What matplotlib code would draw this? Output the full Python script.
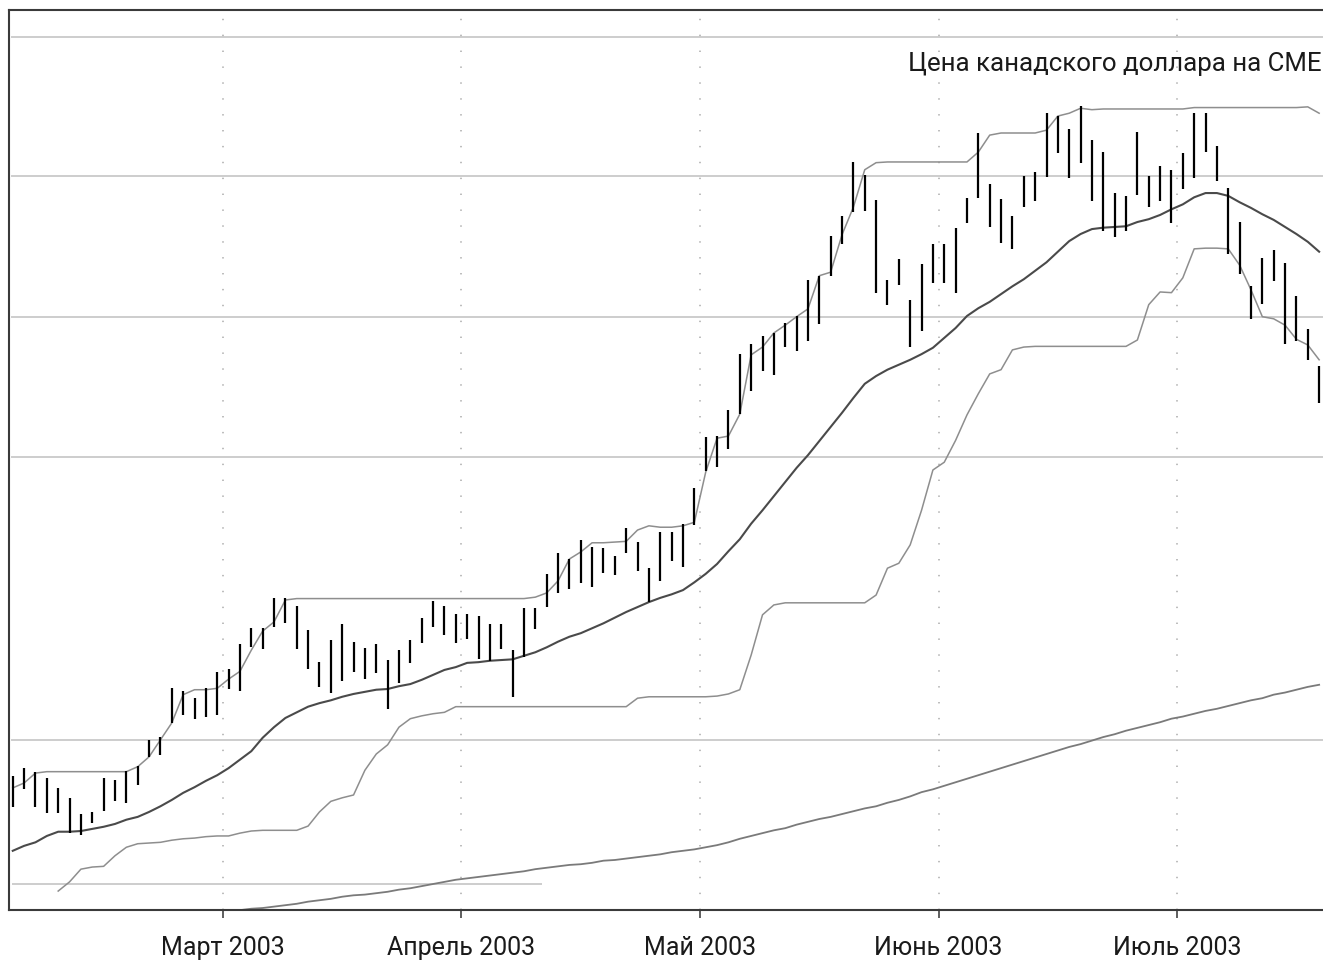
import numpy as np
import pandas as pd
import matplotlib
matplotlib.use("Agg")
import matplotlib.pyplot as plt

plt.rcParams['font.family'] = ['Roboto', 'DejaVu Sans']

# ---- trading calendar (CME, Feb 3 - Jul 18 2003) ----
holidays = pd.to_datetime(['2003-02-17', '2003-04-18', '2003-05-26', '2003-07-04'])
dates = pd.bdate_range('2003-02-03', '2003-07-18').difference(holidays)

month_labels = ['Март 2003', 'Апрель 2003', 'Май 2003', 'Июнь 2003', 'Июль 2003']
title_text = 'Цена канадского доллара на СМЕ'

# ---- daily bars (US cents per CAD) ----
high = [66.53, 66.64, 66.59, 66.50, 66.36, 66.22, 65.99, 66.02, 66.50, 66.47,
        66.60, 66.67, 67.04, 67.08, 67.77, 67.73, 67.63, 67.77, 68.00, 68.04,
        68.40, 68.62, 68.62, 69.05, 69.05, 68.93, 68.60, 68.14, 68.45, 68.68,
        68.43, 68.34, 68.40, 68.17, 68.31, 68.45, 68.77, 69.01, 68.93, 68.82,
        68.82, 68.79, 68.68, 68.68, 68.31, 68.91, 68.91, 69.39, 69.69, 69.60,
        69.87, 69.77, 69.76, 69.64, 70.04, 69.84, 69.47, 69.98, 69.98, 70.10,
        70.61, 71.33, 71.34, 71.71, 72.50, 72.64, 72.76, 72.80, 72.94, 73.04,
        73.55, 73.61, 74.17, 74.46, 75.22, 75.04, 74.68, 73.55, 73.85, 73.27,
        73.78, 74.06, 74.06, 74.29, 74.71, 75.63, 74.91, 74.70, 74.46, 75.02,
        75.08, 75.91, 75.87, 75.69, 76.01, 75.53, 75.36, 74.78, 74.74, 75.64,
        75.02, 75.16, 75.11, 75.35, 75.91, 75.91, 75.45, 74.85, 74.37, 73.46,
        73.86, 73.97, 73.79, 73.32, 72.86, 72.33]
low = [66.09, 66.34, 66.09, 66.00, 66.00, 65.72, 65.69, 65.86, 66.03, 66.17,
       66.15, 66.40, 66.80, 66.83, 67.28, 67.39, 67.34, 67.36, 67.39, 67.76,
       67.73, 68.35, 68.33, 68.64, 68.69, 68.33, 68.04, 67.79, 67.70, 67.87,
       68.00, 67.90, 67.99, 67.48, 67.84, 68.13, 68.41, 68.64, 68.52, 68.41,
       68.47, 68.18, 68.16, 68.33, 67.65, 68.21, 68.61, 68.92, 69.12, 69.18,
       69.26, 69.20, 69.40, 69.37, 69.69, 69.43, 68.99, 69.29, 69.57, 69.49,
       70.08, 70.85, 70.90, 71.16, 71.65, 71.98, 72.26, 72.20, 72.60, 72.54,
       72.69, 72.93, 73.61, 74.06, 74.51, 74.53, 73.37, 73.20, 73.48, 72.60,
       72.83, 73.51, 73.51, 73.37, 74.36, 74.71, 74.30, 74.07, 73.99, 74.58,
       74.67, 75.01, 75.35, 74.99, 75.21, 74.67, 74.24, 74.16, 74.24, 74.75,
       74.58, 74.67, 74.36, 74.84, 74.99, 75.36, 74.95, 73.92, 73.63, 73.00,
       73.21, 73.53, 72.64, 72.69, 72.42, 71.81]

# ---- indicator lines ----
upper_band = [66.36, 66.43, 66.57, 66.59, 66.59, 66.59, 66.59, 66.59, 66.59, 66.59,
              66.59, 66.66, 66.80, 67.04, 67.28, 67.68, 67.75, 67.75, 67.77, 67.90,
              68.01, 68.31, 68.58, 68.71, 69.02, 69.04, 69.04, 69.04, 69.04, 69.04,
              69.04, 69.04, 69.04, 69.04, 69.04, 69.04, 69.04, 69.04, 69.04, 69.04,
              69.04, 69.04, 69.04, 69.04, 69.04, 69.04, 69.06, 69.12, 69.29, 69.60,
              69.70, 69.83, 69.83, 69.84, 69.85, 70.01, 70.07, 70.05, 70.05, 70.07,
              70.12, 70.83, 71.31, 71.34, 71.65, 72.49, 72.60, 72.80, 72.91, 73.03,
              73.14, 73.61, 73.66, 74.19, 74.58, 75.11, 75.21, 75.22, 75.22, 75.22,
              75.22, 75.22, 75.22, 75.22, 75.22, 75.36, 75.60, 75.63, 75.63, 75.63,
              75.63, 75.67, 75.87, 75.91, 75.98, 75.96, 75.97, 75.97, 75.97, 75.97,
              75.97, 75.97, 75.97, 75.97, 75.99, 75.99, 75.99, 75.99, 75.99, 75.99,
              75.99, 75.99, 75.99, 75.99, 76.00, 75.91]
mid_ma = [65.47, 65.54, 65.59, 65.68, 65.74, 65.74, 65.75, 65.78, 65.81, 65.85,
          65.91, 65.95, 66.02, 66.10, 66.19, 66.29, 66.37, 66.46, 66.54, 66.64,
          66.76, 66.88, 67.07, 67.22, 67.35, 67.43, 67.51, 67.56, 67.60, 67.65,
          67.69, 67.72, 67.75, 67.76, 67.80, 67.83, 67.89, 67.96, 68.03, 68.07,
          68.13, 68.14, 68.16, 68.17, 68.18, 68.23, 68.28, 68.35, 68.43, 68.50,
          68.55, 68.62, 68.69, 68.77, 68.85, 68.92, 68.99, 69.05, 69.10, 69.16,
          69.27, 69.39, 69.53, 69.71, 69.88, 70.10, 70.29, 70.49, 70.69, 70.89,
          71.07, 71.27, 71.47, 71.67, 71.88, 72.08, 72.19, 72.28, 72.35, 72.42,
          72.50, 72.59, 72.73, 72.87, 73.04, 73.15, 73.24, 73.35, 73.46, 73.56,
          73.68, 73.80, 73.95, 74.10, 74.20, 74.27, 74.29, 74.30, 74.31, 74.37,
          74.41, 74.47, 74.55, 74.62, 74.72, 74.78, 74.78, 74.74, 74.65, 74.57,
          74.48, 74.40, 74.30, 74.20, 74.09, 73.95]
nan = np.nan
lower_band = [nan, nan, nan, nan, 64.90, 65.03, 65.21, 65.24, 65.25, 65.40,
              65.52, 65.57, 65.58, 65.59, 65.62, 65.64, 65.65, 65.67, 65.68, 65.68,
              65.72, 65.75, 65.76, 65.76, 65.76, 65.76, 65.82, 66.02, 66.17, 66.22,
              66.26, 66.61, 66.84, 66.97, 67.22, 67.34, 67.38, 67.41, 67.43, 67.51,
              67.51, 67.51, 67.51, 67.51, 67.51, 67.51, 67.51, 67.51, 67.51, 67.51,
              67.51, 67.51, 67.51, 67.51, 67.51, 67.63, 67.65, 67.65, 67.65, 67.65,
              67.65, 67.65, 67.66, 67.69, 67.75, 68.24, 68.81, 68.95, 68.98, 68.98,
              68.98, 68.98, 68.98, 68.98, 68.98, 68.98, 69.09, 69.47, 69.54, 69.80,
              70.29, 70.86, 70.97, 71.28, 71.64, 71.94, 72.22, 72.28, 72.56, 72.60,
              72.61, 72.61, 72.61, 72.61, 72.61, 72.61, 72.61, 72.61, 72.61, 72.70,
              73.20, 73.38, 73.37, 73.58, 73.99, 74.00, 74.00, 73.99, 73.76, 73.41,
              73.03, 73.00, 72.91, 72.71, 72.63, 72.42]
long_ma = [nan] * 20 + [
              64.63, 64.65, 64.66, 64.68, 64.70, 64.72, 64.75, 64.77, 64.79, 64.82,
              64.84, 64.85, 64.87, 64.89, 64.92, 64.94, 64.97, 65.00, 65.03, 65.06,
              65.08, 65.10, 65.12, 65.14, 65.16, 65.18, 65.21, 65.23, 65.25, 65.27,
              65.28, 65.30, 65.33, 65.34, 65.36, 65.38, 65.40, 65.42, 65.45, 65.47,
              65.49, 65.52, 65.55, 65.59, 65.64, 65.68, 65.72, 65.76, 65.79, 65.84,
              65.88, 65.92, 65.95, 65.99, 66.03, 66.07, 66.10, 66.15, 66.19, 66.24,
              66.30, 66.34, 66.39, 66.44, 66.49, 66.54, 66.59, 66.64, 66.69, 66.74,
              66.79, 66.84, 66.89, 66.94, 66.98, 67.03, 67.08, 67.12, 67.17, 67.21,
              67.25, 67.29, 67.34, 67.37, 67.41, 67.45, 67.48, 67.52, 67.56, 67.60,
              67.63, 67.68, 67.71, 67.75, 67.79, 67.82]

grid_levels = [67.04, 71.04, 73.03, 75.02, 76.99]
base_level = 65.0
base_level_end = dates.get_loc(pd.Timestamp('2003-04-10'))

# ---- positions ----
x = np.arange(len(dates))
months = dates.to_period('M')
first_idx = [i for i in range(1, len(dates)) if months[i] != months[i - 1]]
tick_pos = [i - 0.5 for i in first_idx]

fig = plt.figure(figsize=(13.23, 9.61), dpi=100)
# axes runs a little past the right edge of the picture (chart is cropped there)
ax = fig.add_axes([9 / 1323, 51 / 961, 1324 / 1323, 900 / 961])

grid_c = '#cdcdcd'
for g in grid_levels:
    ax.axhline(g, xmin=0.0025, color=grid_c, lw=1.4, zorder=0)
ax.hlines(base_level, -0.05, base_level_end - 0.4, color=grid_c, lw=1.4, zorder=0)
for t in tick_pos:
    ax.axvline(t, color='#b8b8b8', lw=1.3, ls=(0, (0.8, 8)), zorder=0)

ax.plot(x, long_ma, color='#7a7a7a', lw=1.3, zorder=2)
ax.plot(x, lower_band, color='#8e8e8e', lw=1.1, zorder=2)
ax.plot(x, upper_band, color='#8e8e8e', lw=1.1, zorder=2)
ax.plot(x, mid_ma, color='#4a4a4a', lw=1.5, zorder=3)
ax.vlines(x, low, high, color='black', lw=1.6, zorder=5)

ax.set_xlim(-0.33, 116.22)
ax.set_ylim(64.632, 77.371)
ax.set_yticks([])
ax.set_xticks(tick_pos)
ax.set_xticklabels(month_labels)
ax.tick_params(axis='x', length=6, width=1.1, color='#333333', pad=13,
               labelsize=18, labelcolor='#1a1a1a')
for s in ['left', 'top', 'bottom']:
    ax.spines[s].set_color('#3a3a3a')
    ax.spines[s].set_linewidth(1.5)
ax.spines['right'].set_visible(False)

fig.text(908 / 1323, 1 - 64 / 961, title_text, fontsize=18.6, ha='left',
         va='center', color='#1a1a1a')

fig.savefig('out.png', dpi=100)
